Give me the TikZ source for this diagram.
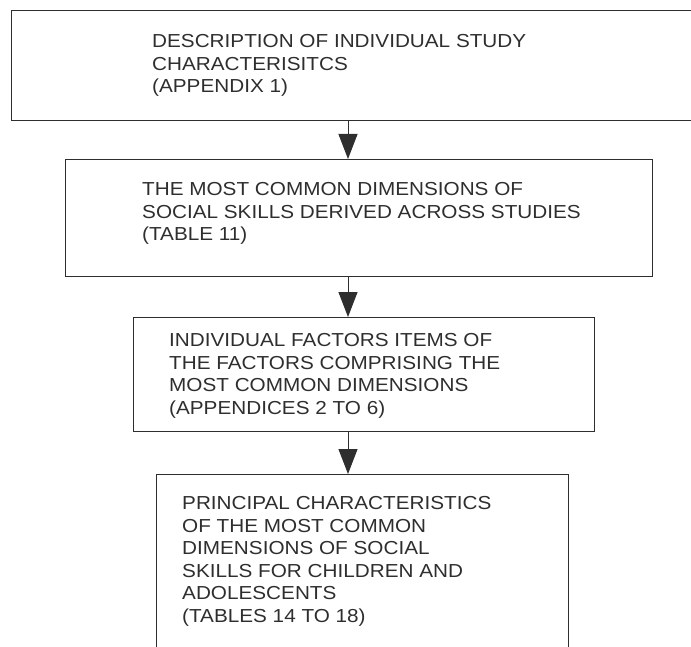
\documentclass[tikz,border=0pt]{standalone}
\usepackage{fontspec}
\setmainfont{Liberation Sans}[FakeStretch=1.1]
\usetikzlibrary{arrows.meta}
\definecolor{ink}{HTML}{2E2E2E}
\tikzset{
  x=1bp, y=-1bp,
  stage/.style={draw=ink, line width=1.1bp, rectangle, inner sep=0pt, anchor=north west},
  label/.style={text=ink, inner sep=0pt, anchor=north west, align=left,
    font=\fontsize{18.9}{22.6}\selectfont},
  flow/.style={draw=ink, line width=1bp, -{Triangle[width=19bp, length=25bp]}}
}
\begin{document}
\begin{tikzpicture}
\clip (0,0) rectangle (691,647);
% stage boxes
\node[stage, minimum width=700bp, minimum height=110bp] (b1) at (11,10) {};
\node[stage, minimum width=587bp, minimum height=117bp] (b2) at (65,159) {};
\node[stage, minimum width=461bp, minimum height=114bp] (b3) at (133,317) {};
\node[stage, minimum width=412bp, minimum height=200bp] (b4) at (156,474) {};
% box texts
\node[label] (t1) at (152,34.5) {DESCRIPTION OF INDIVIDUAL STUDY\\CHARACTERISITCS\\(APPENDIX 1)};
\node[label] (t2) at (142,182.5) {THE MOST COMMON DIMENSIONS OF\\SOCIAL SKILLS DERIVED ACROSS STUDIES\\(TABLE 11)};
\node[label] (t3) at (169,333.5) {INDIVIDUAL FACTORS ITEMS OF\\THE FACTORS COMPRISING THE\\MOST COMMON DIMENSIONS\\(APPENDICES 2 TO 6)};
\node[label] (t4) at (182,496.5) {PRINCIPAL CHARACTERISTICS\\OF THE MOST COMMON\\DIMENSIONS OF SOCIAL\\SKILLS FOR CHILDREN AND\\ADOLESCENTS\\(TABLES 14 TO 18)};
% connectors
\coordinate (ax) at (348,0);
\draw[flow] (b1.south -| ax) -- (b2.north -| ax);
\draw[flow] (b2.south -| ax) -- (b3.north -| ax);
\draw[flow] (b3.south -| ax) -- (b4.north -| ax);
\end{tikzpicture}
\end{document}
